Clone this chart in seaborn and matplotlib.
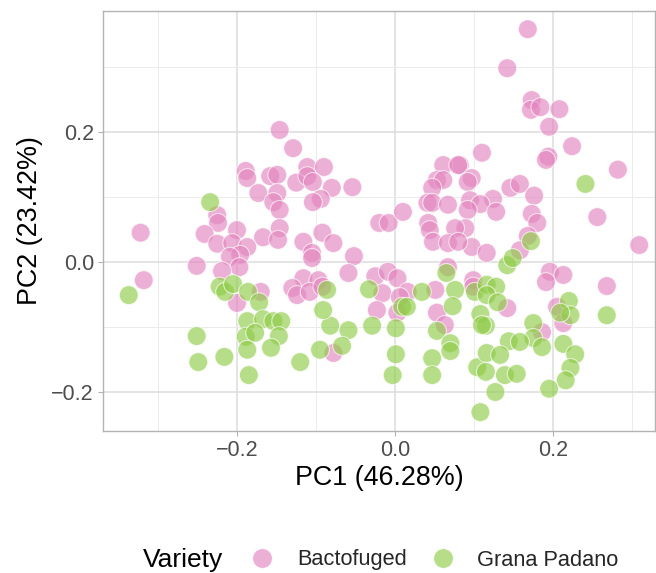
import matplotlib
matplotlib.use("Agg")
import matplotlib.pyplot as plt
from matplotlib.lines import Line2D
from matplotlib.ticker import MultipleLocator
import seaborn as sns
import pandas as pd

# ---- data ----
bacto_pc1 = [0.168, 0.142, 0.173, 0.172, 0.184, 0.208, 0.195, 0.224, 0.194, 0.191,
             0.282, 0.256, 0.309, 0.082, 0.110, 0.097, 0.092, 0.146, 0.158, 0.176,
             0.124, 0.095, 0.108, 0.128, 0.092, 0.173, 0.180, 0.089, 0.168, 0.097,
             0.116, 0.158,
             -0.146, -0.129, -0.189, -0.187, -0.158, -0.149, -0.125, -0.173, -0.149, -0.154,
             -0.146, -0.146, -0.167, -0.148, -0.200, -0.225, -0.224, -0.241, -0.225, -0.206,
             -0.187, -0.196, -0.209, -0.197, -0.219, -0.251, -0.322, -0.318,
             -0.111, -0.090, -0.111, -0.104, -0.080, -0.054, -0.094, -0.104, -0.116, -0.092,
             -0.078, -0.105, -0.105, -0.052, -0.059, -0.116, -0.097, -0.020, -0.008, 0.010,
             -0.025, -0.009, 0.003, 0.061, 0.080, 0.053, 0.061, 0.047, 0.041, 0.047,
             0.067, 0.042, 0.044, 0.048, 0.076, 0.067, 0.080, 0.067, 0.099,
             -0.200, -0.170, -0.130, -0.124,
             -0.108, -0.092, -0.016, 0.016, 0.006, 0.003, -0.023, 0.051, 0.053, 0.063,
             -0.078,
             0.196, 0.213, 0.191, 0.268, 0.205, 0.213, 0.099, 0.142, 0.186]
bacto_pc2 = [0.358, 0.298, 0.249, 0.234, 0.238, 0.235, 0.208, 0.178, 0.162, 0.157,
             0.142, 0.069, 0.026, 0.149, 0.168, 0.129, 0.123, 0.114, 0.120, 0.102,
             0.097, 0.095, 0.089, 0.077, 0.080, 0.074, 0.060, 0.052, 0.040, 0.023,
             0.014, 0.018,
             0.203, 0.175, 0.140, 0.129, 0.132, 0.134, 0.122, 0.106, 0.106, 0.092,
             0.080, 0.052, 0.038, 0.034, 0.049, 0.072, 0.060, 0.043, 0.028, 0.029,
             0.023, 0.011, 0.008, -0.008, -0.014, -0.006, 0.045, -0.028,
             0.146, 0.146, 0.132, 0.123, 0.114, 0.115, 0.097, 0.092, 0.031, 0.045,
             0.029, 0.014, 0.006, 0.009, -0.017, -0.025, -0.028, 0.060, 0.060, 0.077,
             -0.022, -0.015, -0.025, 0.149, 0.149, 0.126, 0.126, 0.114, 0.091, 0.091,
             0.088, 0.060, 0.049, 0.031, 0.052, 0.029, 0.031, -0.008, -0.028,
             -0.063, -0.046, -0.040, -0.051,
             -0.046, -0.038, -0.048, -0.046, -0.054, -0.078, -0.074, -0.043, -0.078, -0.097,
             -0.140,
             -0.015, -0.020, -0.031, -0.037, -0.069, -0.094, -0.038, -0.071, -0.108]

grana_pc1 = [-0.234, -0.337, -0.222, -0.215, -0.205, -0.186, -0.172, -0.187, -0.167, -0.154,
             -0.144, -0.189, -0.177, -0.147, -0.251, -0.187, -0.157, -0.249, -0.216, -0.185,
             -0.120, -0.086, -0.033, 0.034, 0.009, 0.015, 0.065, 0.076, 0.073, 0.053,
             0.070, 0.070, 0.047, 0.047, 0.001, 0.001, -0.003, -0.029, -0.059, -0.067,
             -0.082, -0.091, -0.095, 0.101, 0.108, 0.104, 0.108, 0.241, 0.172, 0.142,
             0.149, 0.220, 0.222, 0.209, 0.116, 0.128, 0.116, 0.130, 0.115, 0.110,
             0.175, 0.175, 0.186, 0.144, 0.158, 0.213, 0.228, 0.222, 0.216, 0.195,
             0.116, 0.133, 0.115, 0.139, 0.154, 0.127, 0.268]
grana_pc2 = [0.092, -0.051, -0.038, -0.046, -0.034, -0.046, -0.062, -0.091, -0.088, -0.091,
             -0.091, -0.115, -0.109, -0.114, -0.114, -0.135, -0.132, -0.154, -0.146, -0.174,
             -0.154, -0.043, -0.042, -0.046, -0.069, -0.069, -0.017, -0.043, -0.068, -0.106,
             -0.125, -0.137, -0.148, -0.174, -0.102, -0.142, -0.174, -0.098, -0.105, -0.129,
             -0.098, -0.074, -0.135, -0.046, -0.080, -0.162, -0.231, 0.120, 0.032, -0.005,
             0.006, -0.060, -0.082, -0.078, -0.035, -0.038, -0.051, -0.062, -0.098, -0.097,
             -0.094, -0.117, -0.131, -0.122, -0.123, -0.126, -0.142, -0.163, -0.182, -0.195,
             -0.140, -0.143, -0.169, -0.174, -0.172, -0.200, -0.082]

varieties = ["Bactofuged", "Grana Padano"]
colors = ["#E384BF", "#90CC48"]
x_ticks = [-0.2, 0.0, 0.2]
y_ticks = [-0.2, 0.0, 0.2]
x_title = "PC1 (46.28%)"
y_title = "PC2 (23.42%)"
legend_title = "Variety"

df = pd.DataFrame({
    "PC1": bacto_pc1 + grana_pc1,
    "PC2": bacto_pc2 + grana_pc2,
    "Variety": [varieties[0]] * len(bacto_pc1) + [varieties[1]] * len(grana_pc1),
})

sns.set_style("white")
plt.rcParams["font.family"] = ["Liberation Sans", "DejaVu Sans"]

fig = plt.figure(figsize=(6.56, 5.73), dpi=100)
ax = fig.add_axes([103 / 656, 1 - 431 / 573, 552 / 656, 420 / 573])

sns.scatterplot(data=df, x="PC1", y="PC2", hue="Variety", hue_order=varieties,
                palette=dict(zip(varieties, colors)), s=185, alpha=0.65,
                edgecolor="white", linewidth=0.8, legend=False, ax=ax, zorder=3)

ax.set_xlim(-0.3696, 0.329)
ax.set_ylim(-0.26, 0.386)
ax.set_xticks(x_ticks)
ax.set_yticks(y_ticks)
ax.xaxis.set_minor_locator(MultipleLocator(0.1))
ax.yaxis.set_minor_locator(MultipleLocator(0.1))
ax.grid(True, which="major", color="#DCDCDC", linewidth=1.1, zorder=0)
ax.grid(True, which="minor", color="#EBEBEB", linewidth=0.7, zorder=0)
ax.set_axisbelow(True)
for sp in ax.spines.values():
    sp.set_visible(True)
    sp.set_color("#B3B3B3")
    sp.set_linewidth(1.0)
ax.tick_params(which="major", direction="out", length=3.5, width=0.8,
               color="#B3B3B3", labelcolor="#4D4D4D", labelsize=15.5, pad=3,
               bottom=True, left=True)
ax.tick_params(which="minor", length=0)
ax.set_xlabel(x_title, fontsize=19.4, color="black", labelpad=3)
ax.set_ylabel(y_title, fontsize=19.4, color="black", labelpad=6)

handles = [Line2D([0], [0], marker="o", linestyle="", markersize=14,
                  markerfacecolor=c, markeredgecolor="white", markeredgewidth=0.5,
                  alpha=0.65) for c in colors]
fig.text(143 / 656, 6 / 573, legend_title, fontsize=19, color="black",
         ha="left", va="baseline")
fig.legend(handles, varieties, loc="center left",
           bbox_to_anchor=(251 / 656, 1 - 560 / 573), frameon=False, ncol=2,
           fontsize=15.7, handlelength=1.0, handletextpad=1.1,
           columnspacing=1.15, borderpad=0, borderaxespad=0)

fig.savefig("out.png", dpi=100)
